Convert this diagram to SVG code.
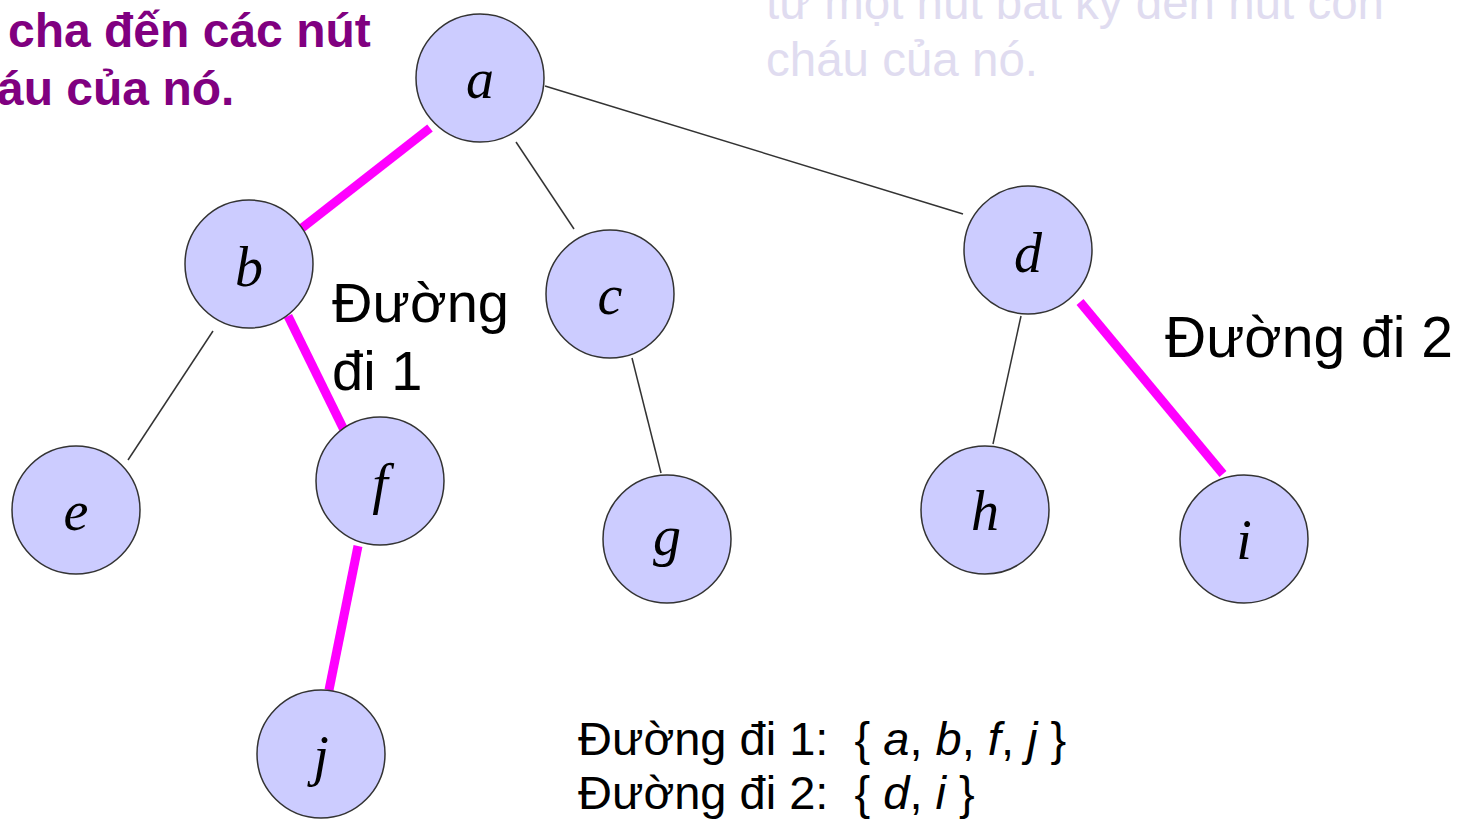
<svg xmlns="http://www.w3.org/2000/svg" width="1462" height="819" viewBox="0 0 1462 819">
<style>
.node circle{fill:#ccccff;stroke:#333;stroke-width:1.5}
.node text{font-family:"Liberation Serif",serif;font-style:italic;font-size:56px;fill:#000;text-anchor:middle}
.thin{stroke:#333;stroke-width:1.5;fill:none}
.path{stroke:#ff00ff;stroke-width:9;fill:none}
.lbl{font-family:"Liberation Sans",Arial,sans-serif;fill:#000;white-space:pre}
.title{font-family:"Liberation Sans",Arial,sans-serif;font-weight:bold;font-size:48px;fill:#800080}
.faded{font-family:"Liberation Sans",Arial,sans-serif;font-size:47.5px;fill:#e0dcf0}
</style>
<rect width="1462" height="819" fill="#fff"/>
<text class="title" x="8" y="47">cha đến các nút</text>
<text class="title" x="-3" y="105">áu của nó.</text>
<text class="faded" x="766" y="19">từ một nút bất kỳ đến nút con</text>
<text class="faded" x="766" y="76">cháu của nó.</text>
<g id="connectors">
<line class="path" x1="430" y1="128" x2="302" y2="228"/>
<line class="thin" x1="516" y1="142" x2="574" y2="229"/>
<line class="thin" x1="545" y1="86" x2="963" y2="214"/>
<line class="thin" x1="213" y1="331" x2="128" y2="460"/>
<line class="path" x1="288" y1="316" x2="344" y2="430"/>
<line class="thin" x1="632" y1="358" x2="661" y2="473"/>
<line class="thin" x1="1021" y1="316" x2="993" y2="444"/>
<line class="path" x1="1080" y1="302" x2="1223" y2="474"/>
<line class="path" x1="358" y1="546" x2="329" y2="690"/>
</g>
<g id="node-a" class="node"><circle cx="480" cy="78" r="64"/><text x="480" y="98">a</text></g>
<g id="node-b" class="node"><circle cx="249" cy="264" r="64"/><text x="249" y="286">b</text></g>
<g id="node-c" class="node"><circle cx="610" cy="294" r="64"/><text x="610" y="314">c</text></g>
<g id="node-d" class="node"><circle cx="1028" cy="250" r="64"/><text x="1028" y="272">d</text></g>
<g id="node-e" class="node"><circle cx="76" cy="510" r="64"/><text x="76" y="530">e</text></g>
<g id="node-f" class="node"><circle cx="380" cy="481" r="64"/><text x="380" y="503">f</text></g>
<g id="node-g" class="node"><circle cx="667" cy="539" r="64"/><text x="667" y="555">g</text></g>
<g id="node-h" class="node"><circle cx="985" cy="510" r="64"/><text x="985" y="530">h</text></g>
<g id="node-i" class="node"><circle cx="1244" cy="539" r="64"/><text x="1244" y="559">i</text></g>
<g id="node-j" class="node"><circle cx="321" cy="754" r="64"/><text x="321" y="775">j</text></g>
<text class="lbl" x="332" y="322" font-size="56">Đường</text>
<text class="lbl" x="332" y="390" font-size="56">đi 1</text>
<text class="lbl" x="1165" y="357" font-size="57">Đường đi 2</text>
<text class="lbl" x="578" y="755" font-size="47" xml:space="preserve">Đường đi 1:  { <tspan font-style="italic">a</tspan>, <tspan font-style="italic">b</tspan>, <tspan font-style="italic">f</tspan>, <tspan font-style="italic">j</tspan> }</text>
<text class="lbl" x="578" y="809" font-size="47" xml:space="preserve">Đường đi 2:  { <tspan font-style="italic">d</tspan>, <tspan font-style="italic">i</tspan> }</text>
</svg>
